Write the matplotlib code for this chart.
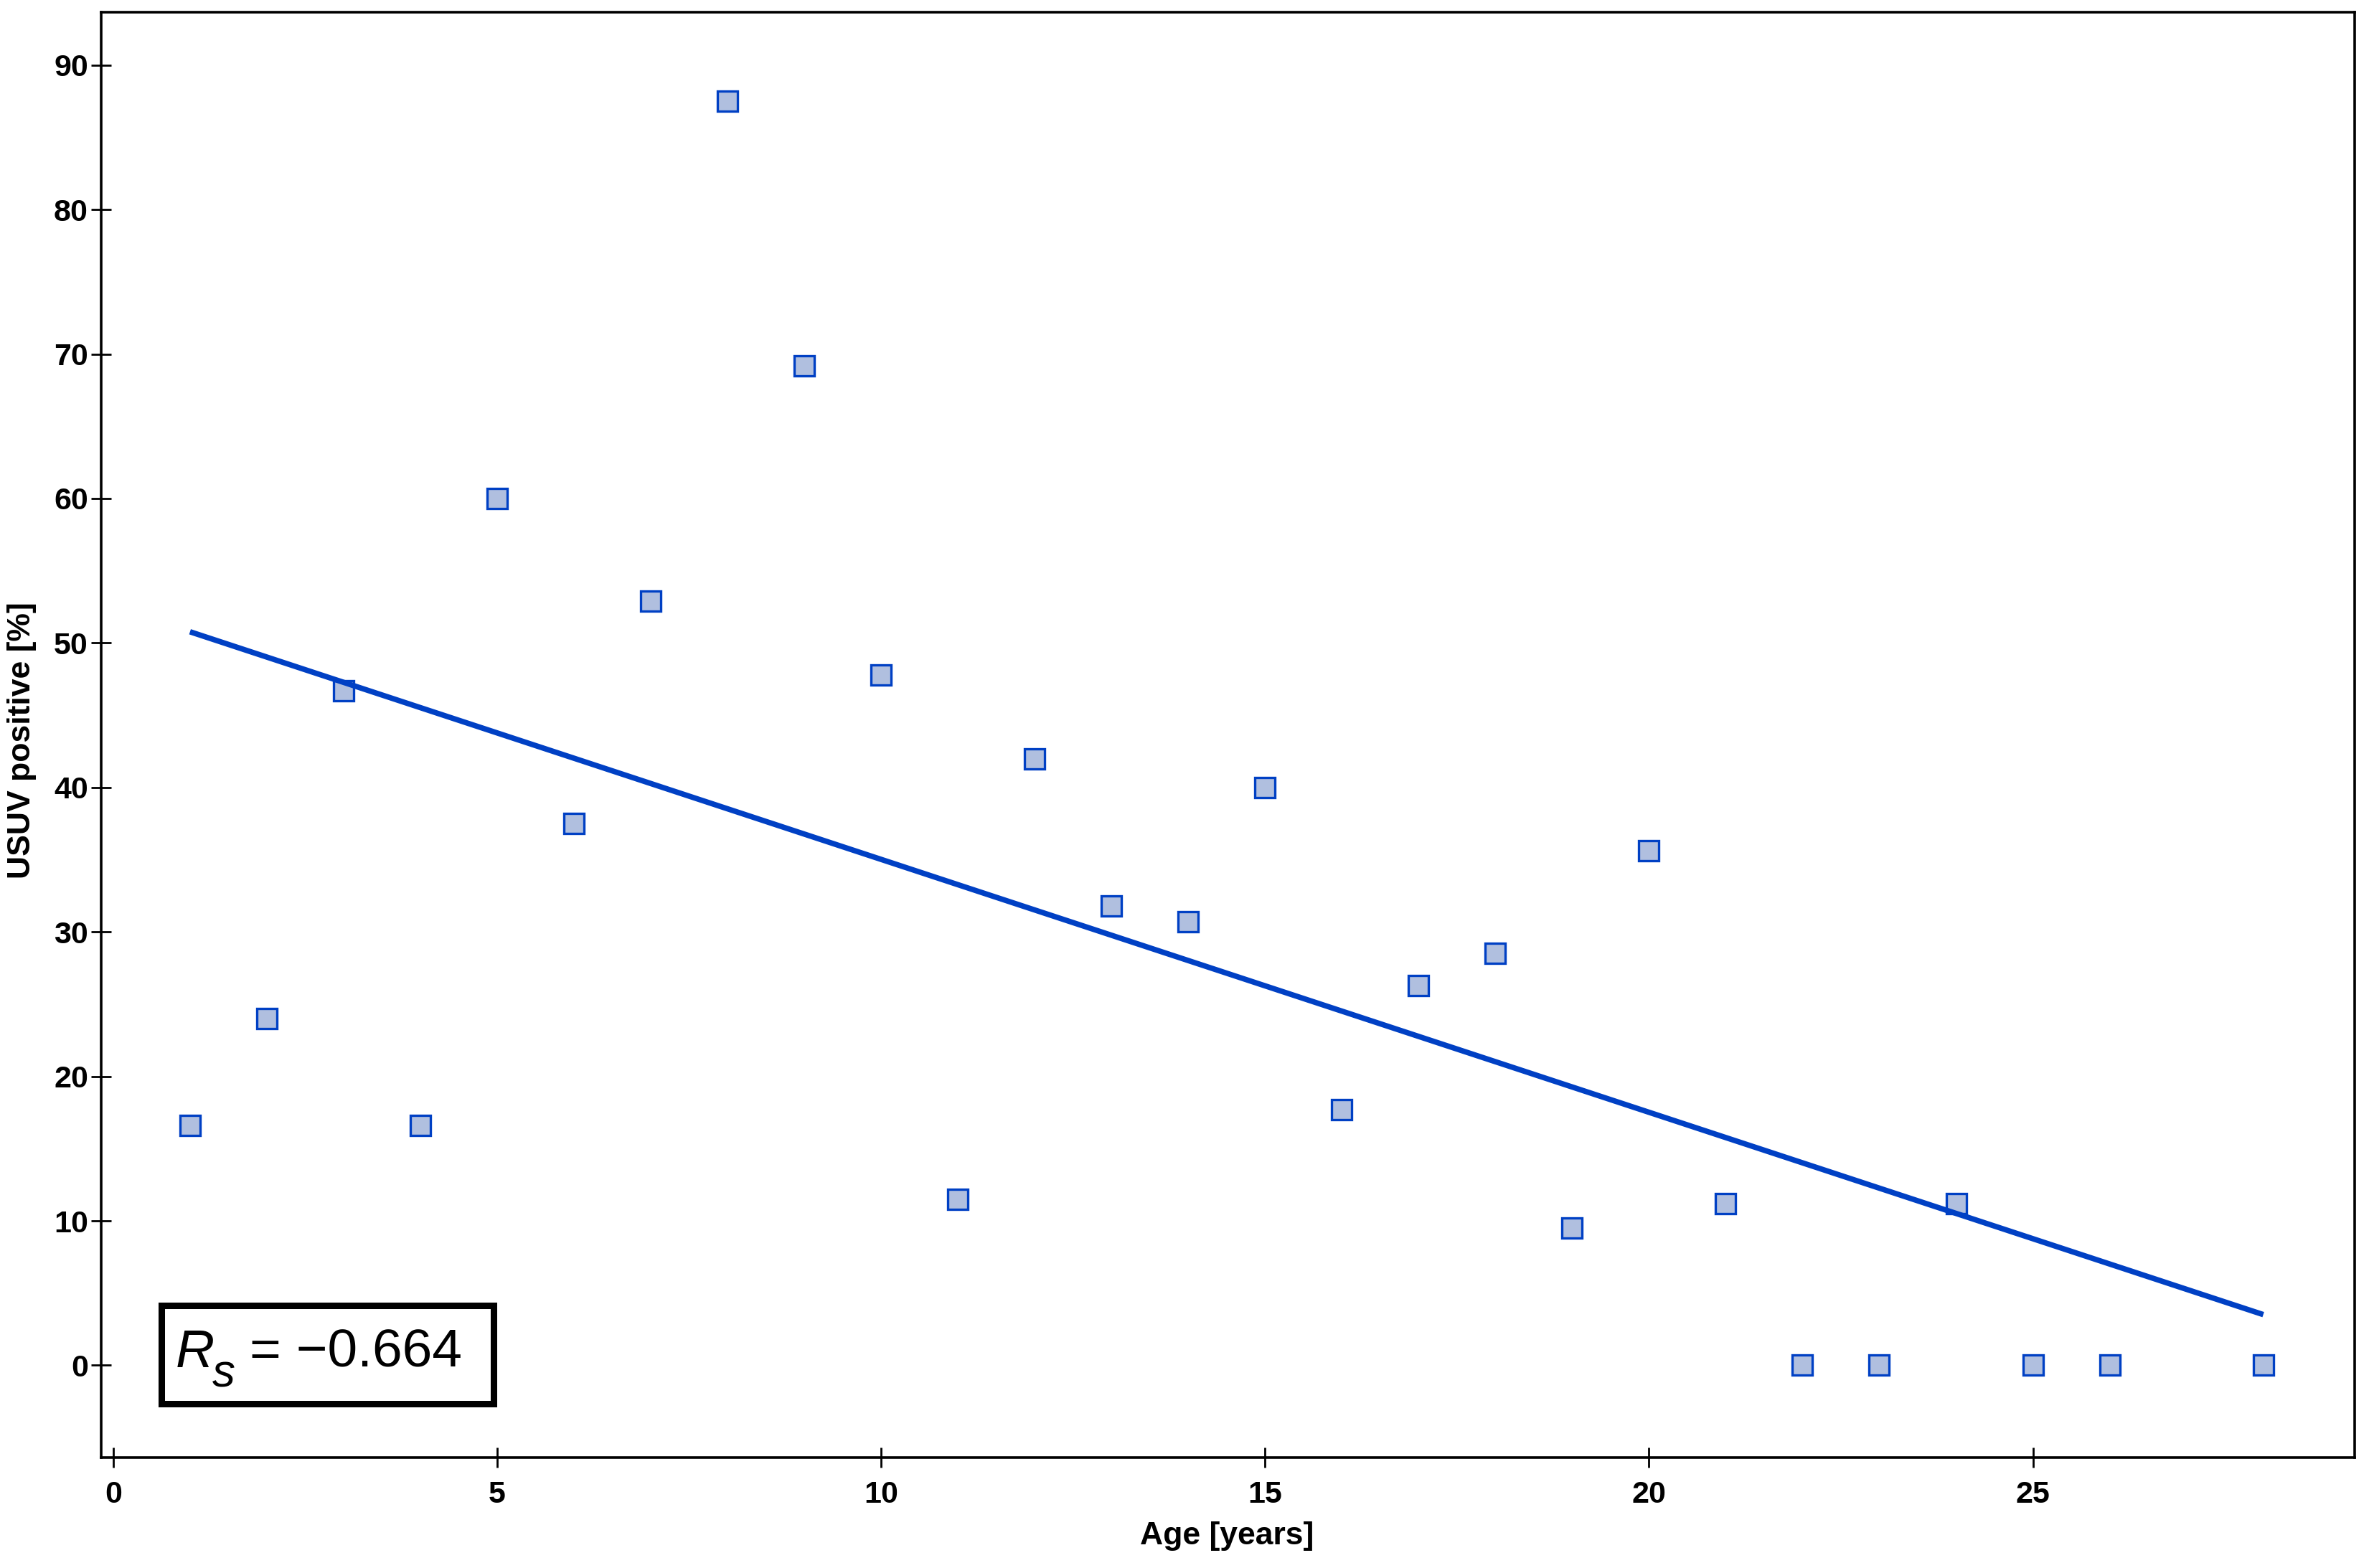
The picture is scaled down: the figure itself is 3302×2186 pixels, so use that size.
import numpy as np
import matplotlib
matplotlib.use("Agg")
import matplotlib.pyplot as plt
from matplotlib.patches import Rectangle

plt.rcParams['font.family'] = ['Liberation Sans', 'DejaVu Sans']

# Data
age = [1, 2, 3, 4, 5, 6, 7, 8, 9, 10, 11, 12, 13, 14, 15, 16, 17, 18, 19, 20,
       21, 22, 23, 24, 25, 26, 28]
usuv = [16.6, 24.0, 46.7, 16.6, 60.0, 37.5, 52.9, 87.5, 69.2, 47.8, 11.5, 42.0,
        31.8, 30.7, 40.0, 17.7, 26.3, 28.5, 9.5, 35.6, 11.2, 0.0, 0.0, 11.2,
        0.0, 0.0, 0.0]
xticks = [0, 5, 10, 15, 20, 25]
yticks = [0, 10, 20, 30, 40, 50, 60, 70, 80, 90]
rs_value = '\u22120.664'

W, H = 3302, 2186
fig = plt.figure(figsize=(W / 100, H / 100), dpi=100)
ax = fig.add_axes([141 / W, 1 - 2032 / H, (3282 - 141) / W, (2032 - 17) / H])

blue = '#0040C4'
ax.plot(age, usuv, linestyle='none', marker='s', markersize=19.5,
        markerfacecolor='#B0BFDF', markeredgecolor=blue, markeredgewidth=2.4,
        zorder=3)

# Linear regression line
coef = np.polyfit(age, usuv, 1)
xf = np.array([min(age), max(age)])
ax.plot(xf, np.polyval(coef, xf), color=blue, linewidth=5.5, zorder=4,
        solid_capstyle='butt')

ax.set_xlim(-0.157, 29.19)
ax.set_ylim(-6.38, 93.66)
ax.set_xticks(xticks)
ax.set_yticks(yticks)
ax.set_xticklabels([str(t) for t in xticks])
ax.set_yticklabels([str(t) for t in yticks])

for s in ax.spines.values():
    s.set_linewidth(2.6)
    s.set_color('black')

ax.tick_params(axis='both', direction='inout', length=20, width=2.0,
               labelsize=31, colors='black')
ax.tick_params(axis='x', pad=13)
ax.tick_params(axis='y', pad=3)
for lab in ax.get_xticklabels() + ax.get_yticklabels():
    lab.set_fontweight('bold')

ax.set_xlabel('Age [years]', fontsize=32, fontweight='bold')
ax.xaxis.set_label_coords(0.4995, -0.044)
ax.set_ylabel('USUV positive [%]', fontsize=32, fontweight='bold')
ax.yaxis.set_label_coords(-0.0287, 0.496)

# R_s box
rect = Rectangle((0.0269, 0.0370), 0.1474, 0.0680, transform=ax.transAxes,
                 fill=False, edgecolor='black', linewidth=6.5, zorder=5,
                 joinstyle='miter')
ax.add_patch(rect)
base_y = (2032 - 1906) / 2015
ax.text((245 - 141) / 3141, base_y, 'R', transform=ax.transAxes,
        fontsize=54, fontstyle='italic', ha='left', va='baseline', zorder=6)
ax.text((296 - 141) / 3141, (2032 - 1933) / 2015, 's', transform=ax.transAxes,
        fontsize=46, fontstyle='italic', ha='left', va='baseline', zorder=6)
ax.text((348 - 141) / 3141, base_y, '= ' + rs_value, transform=ax.transAxes,
        fontsize=54, ha='left', va='baseline', zorder=6)

fig.savefig('out.png', dpi=100, facecolor='white')
